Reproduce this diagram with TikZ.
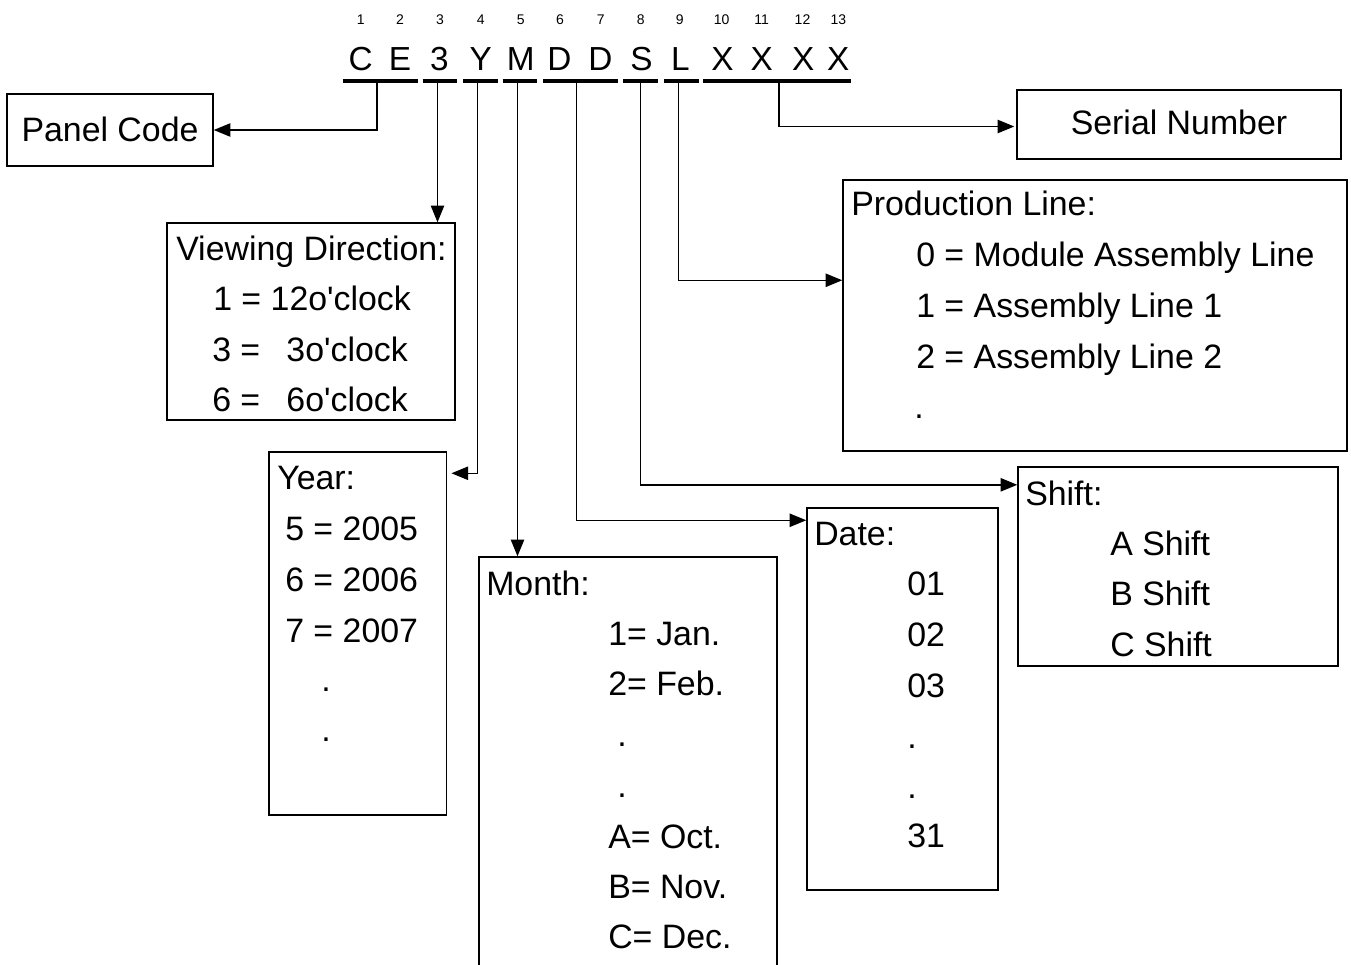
\documentclass[tikz,border=0pt]{standalone}
\usepackage{fontspec}
\setmainfont{Liberation Sans}[Ligatures=TeXOff]
\usetikzlibrary{fit,arrows.meta}
\begin{document}
\begin{tikzpicture}[x=0.75pt,y=-0.75pt,
  box/.style={draw, line width=1.1pt, inner sep=0pt},
  txt/.style={anchor=base west, inner sep=0pt, font=\fontsize{25.4pt}{30pt}\selectfont},
  txte/.style={txt, anchor=base east},
  txtc/.style={txt, anchor=base},
  lett/.style={anchor=base, inner sep=0pt, font=\fontsize{25pt}{30pt}\selectfont},
  digit/.style={anchor=base, inner sep=0pt, font=\fontsize{10.5pt}{12pt}\selectfont},
  uline/.style={line width=2.3pt},
  conn/.style={line width=1.1pt, -{Triangle[length=12.5pt,width=10pt]}}]
\useasboundingbox (0,0) rectangle (1351,964);

% position digits
\foreach \x/\d [count=\i] in {360.7/1,400/2,440/3,480.7/4,520.7/5,560/6,600.7/7,640.7/8,679.8/9,721.7/10,761.7/11,802.5/12,838.3/13}
  \node[digit] (d\i) at (\x,24) {\d};
% code letters
\foreach \x/\l [count=\i] in {360.7/C,400/E,439.5/3,480.7/Y,520.7/M,559.5/D,600.5/D,641.5/S,680.5/L,722.5/X,761.7/X,803.3/X,838.3/X}
  \node[lett] (l\i) at (\x,70) {\l};

% underlines
\draw[uline] (342.7,81) -- (418.3,81);
\draw[uline] (422.7,81) -- (457.3,81);
\draw[uline] (463.3,81) -- (498.3,81);
\draw[uline] (502.7,81) -- (537.3,81);
\draw[uline] (543.3,81) -- (618.3,81);
\draw[uline] (623.3,81) -- (658.3,81);
\draw[uline] (664,81) -- (699,81);
\draw[uline] (703.3,81) -- (850.7,81);

\coordinate (uCE) at (377,81);
\coordinate (u3)  at (437.5,81);
\coordinate (uY)  at (477.5,81);
\coordinate (uM)  at (517.5,81);
\coordinate (uDD) at (576.7,81);
\coordinate (uS)  at (640.7,81);
\coordinate (uL)  at (678.5,81);
\coordinate (uX)  at (779,81);

% boxes
\node[box, fit={(7,94) (213,166)}] (panel) {};
\node[box, fit={(1017,90) (1341,159)}] (serial) {};
\node[box, fit={(167,223) (455,420)}] (view) {};
\node[box, fit={(269,452) (446.7,815)}] (year) {};
\node[box, fit={(479,557) (777,975)}] (month) {};
\node[box, fit={(807,508) (998,890)}] (date) {};
\node[box, fit={(1018,467) (1338,666)}] (shift) {};
\node[box, fit={(843,180) (1347,451)}] (prod) {};

% texts
\node[txtc] (tpanel) at (110,141) {Panel Code};
\node[txtc] (tserial) at (1179,134) {Serial Number};

\node[txt] (v0) at (176,260) {Viewing Direction:};
\node[txt] (v1) at (213,310.5) {1 = 12o'clock};
\node[txt] (v2a) at (212,361) {3 =};
\node[txte] (v2b) at (408,361) {3o'clock};
\node[txt] (v3a) at (212,411.5) {6 =};
\node[txte] (v3b) at (408,411.5) {6o'clock};

\node[txt] (y0) at (277,489) {Year:};
\node[txt] (y1) at (285,540) {5 = 2005};
\node[txt] (y2) at (285,591) {6 = 2006};
\node[txt] (y3) at (285,642) {7 = 2007};
\node[txtc] (y4) at (326,691) {.};
\node[txtc] (y5) at (326,741) {.};

\node[txt] (m0) at (486,595) {Month:};
\node[txt] (m1) at (608,645.5) {1= Jan.};
\node[txt] (m2) at (608,695.5) {2= Feb.};
\node[txtc] (m3) at (622,746) {.};
\node[txtc] (m4) at (622,797) {.};
\node[txt] (m5) at (608,848) {A= Oct.};
\node[txt] (m6) at (608,898) {B= Nov.};
\node[txt] (m7) at (608,948) {C= Dec.};

\node[txt] (dt0) at (814,545) {Date:};
\node[txt] (dt1) at (907,595) {01};
\node[txt] (dt2) at (907,646) {02};
\node[txt] (dt3) at (907,697) {03};
\node[txtc] (dt4) at (912,748) {.};
\node[txtc] (dt5) at (912,798) {.};
\node[txt] (dt6) at (907,847) {31};

\node[txt] (s0) at (1025,505) {Shift:};
\node[txt] (s1) at (1110,555) {A Shift};
\node[txt] (s2) at (1110,605) {B Shift};
\node[txt] (s3) at (1110,656) {C Shift};

\node[txt] (p0) at (851,215) {Production Line:};
\node[txt] (p1) at (916,266.5) {0 = Module Assembly Line};
\node[txt] (p2) at (916,317) {1 = Assembly Line 1};
\node[txt] (p3) at (916,368) {2 = Assembly Line 2};
\node[txtc] (p4) at (919,418) {.};

% connectors
\draw[conn] (uCE) |- (panel.east);
\draw[conn] (u3) -- (u3 |- view.north);
\draw[conn] (uY) |- ([xshift=3pt,yshift=-16.5pt]year.north east);
\draw[conn] (uM) -- (uM |- month.north);
\draw[conn] (uDD) |- ([yshift=-9.75pt]date.north west);
\draw[conn] (uS) |- ([yshift=-13.9pt]shift.north west);
\draw[conn] (uL) |- ([yshift=-75.75pt]prod.north west);
\draw[conn] (uX) |- ([xshift=-1.5pt,yshift=-1.5pt]serial.west);
\end{tikzpicture}
\end{document}
